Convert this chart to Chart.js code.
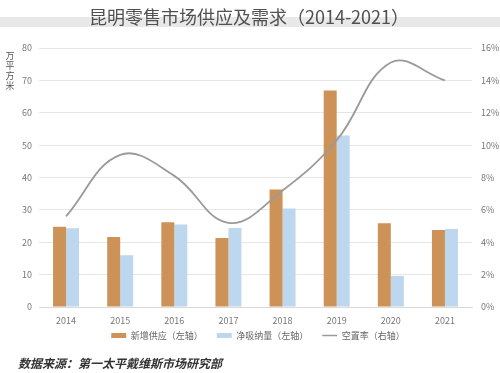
<!DOCTYPE html>
<html>
<head>
<meta charset="utf-8">
<script src="https://cdn.jsdelivr.net/npm/chart.js@4.4.1/dist/chart.umd.min.js"></script>
<style>
  html, body { margin: 0; padding: 0; background: #fff; }
  #wrap { width: 500px; height: 373px; position: relative; }
</style>
</head>
<body>
<div id="wrap"><canvas id="chart" width="500" height="373"></canvas></div>
<script>
// data
const years = ['2014', '2015', '2016', '2017', '2018', '2019', '2020', '2021'];
const newSupply = [24.8, 21.6, 26.2, 21.3, 36.3, 66.9, 25.9, 23.8];     // 万平方米
const netAbsorption = [24.3, 16.0, 25.5, 24.4, 30.4, 53.0, 9.6, 24.1];  // 万平方米
const vacancy = [5.6, 9.4, 8.1, 5.2, 7.2, 10.3, 15.1, 14.0];            // %

const FONT = "'Noto Sans CJK SC', 'Noto Sans', sans-serif";
Chart.defaults.font.family = FONT;

// title band, title, unit label and source line
const decor = {
    id: 'decor',
    afterLayout(chart) {
        // nudge the legend up and right to sit where the reference has it
        const lg = chart.legend;
        lg.top -= 10; lg.bottom -= 10;
        lg.left += 8; lg.right += 8;
    },
    beforeDraw(chart) {
        const ctx = chart.ctx;
        ctx.save();
        ctx.fillStyle = '#fff';
        ctx.fillRect(0, 0, chart.width, chart.height);
        ctx.fillStyle = '#e8e8e8';
        ctx.fillRect(0, 17, chart.width, 10);
        ctx.fillStyle = '#505050';
        ctx.font = `18px ${FONT}`;
        ctx.textAlign = 'center';
        ctx.textBaseline = 'middle';
        ctx.fillText('昆明零售市场供应及需求（2014-2021）', 249, 17);
        ctx.restore();
    },
    afterDraw(chart) {
        const ctx = chart.ctx;
        ctx.save();
        ctx.fillStyle = '#555';
        ctx.font = `9px ${FONT}`;
        ctx.textAlign = 'center';
        ctx.textBaseline = 'middle';
        ['万', '平', '方', '米'].forEach((c, i) => ctx.fillText(c, 10, 56 + i * 9.8));
        ctx.fillStyle = '#333';
        ctx.font = `italic 600 12px ${FONT}`;
        ctx.textAlign = 'left';
        ctx.fillText('数据来源：第一太平戴维斯市场研究部', 18, 363);
        ctx.restore();
    }
};

const legendRank = i => (i === 0 ? 9 : i);

new Chart(document.getElementById('chart'), {
    type: 'bar',
    data: {
        labels: years,
        datasets: [
            {
                type: 'line',
                label: '空置率（右轴）',
                data: vacancy,
                yAxisID: 'y1',
                borderColor: '#9a9a9a',
                backgroundColor: '#9a9a9a',
                borderWidth: 1.8,
                tension: 0.4,
                pointRadius: 0,
                fill: false,
            },
            {
                label: '新增供应（左轴）',
                data: newSupply,
                yAxisID: 'y',
                backgroundColor: '#cd9257',
                categoryPercentage: 0.48,
                barPercentage: 1.0,
            },
            {
                label: '净吸纳量（左轴）',
                data: netAbsorption,
                yAxisID: 'y',
                backgroundColor: '#bdd7ee',
                categoryPercentage: 0.48,
                barPercentage: 1.0,
            },
        ]
    },
    options: {
        responsive: false,
        animation: false,
        layout: { padding: { top: 48, bottom: 13, left: 0, right: 0 } },
        plugins: {
            title: { display: false },
            tooltip: { enabled: false },
            legend: {
                position: 'bottom',
                labels: {
                    color: '#666',
                    font: { size: 9 },
                    padding: 14,
                    usePointStyle: true,
                    pointStyleWidth: 15,
                    boxHeight: 5,
                    sort: (a, b) => legendRank(a.datasetIndex) - legendRank(b.datasetIndex),
                    generateLabels(chart) {
                        const items = Chart.defaults.plugins.legend.labels.generateLabels(chart);
                        items.forEach(it => {
                            if (it.datasetIndex === 0) {
                                it.pointStyle = 'line';
                                it.strokeStyle = '#9a9a9a';
                                it.lineWidth = 1.5;
                            } else {
                                it.pointStyle = 'rect';
                                it.lineWidth = 0;
                            }
                        });
                        return items;
                    }
                }
            }
        },
        scales: {
            x: {
                grid: { display: false, drawTicks: false },
                border: { display: true, color: '#d9d9d9' },
                ticks: { color: '#777', font: { size: 9 }, padding: 8 },
                afterFit: s => { s.height = 20; }
            },
            y: {
                position: 'left',
                min: 0, max: 80,
                ticks: { stepSize: 10, color: '#777', font: { size: 9 }, padding: 7 },
                grid: { color: '#e6e6e6', drawTicks: false },
                border: { display: false },
                afterFit: s => { s.width = 39; }
            },
            y1: {
                position: 'right',
                min: 0, max: 16,
                ticks: { stepSize: 2, color: '#777', font: { size: 9 }, padding: 9, callback: v => v + '%' },
                grid: { drawOnChartArea: false, drawTicks: false },
                border: { display: false },
                afterFit: s => { s.width = 28; }
            }
        }
    },
    plugins: [decor]
});
</script>
</body>
</html>
